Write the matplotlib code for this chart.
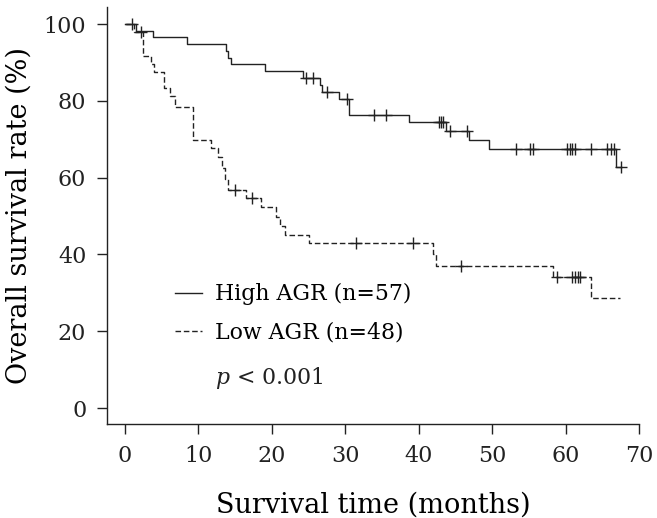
import numpy as np
import matplotlib.pyplot as plt

plt.rcParams['font.family'] = 'DejaVu Serif'
plt.rcParams['mathtext.fontset'] = 'dejavuserif'

# High AGR (n=57): event times (months) and survival (%) after each step
high_t = [0, 1.5, 3.9, 8.5, 13.8, 14.1, 14.5, 19.1, 24.3, 26.5, 26.9, 29.2,
          30.5, 38.7, 43.7, 46.8, 49.6, 66.9]
high_s = [100, 98.2, 96.5, 94.7, 93.0, 91.2, 89.5, 87.7, 85.9, 84.1, 82.2, 80.4,
          76.3, 74.4, 72.1, 69.9, 67.4, 62.9]
high_end = 67.5
high_cens = [1.0, 24.7, 25.6, 27.5, 30.3, 33.9, 35.5, 42.8, 43.0, 43.3, 44.2,
             46.6, 53.2, 55.1, 55.5, 60.2, 60.6, 60.9, 61.2, 63.4, 65.6, 66.1,
             66.6, 67.5]

# Low AGR (n=48)
low_t = [0, 1.3, 2.5, 3.6, 4.0, 5.3, 6.1, 6.8, 9.3, 11.8, 12.7, 13.2, 13.6,
         14.0, 16.5, 18.6, 20.6, 21.1, 21.8, 25.1, 42.0, 42.4, 58.3, 63.5]
low_s = [100, 97.9, 91.7, 89.6, 87.5, 83.3, 81.2, 78.5, 69.8, 67.6, 65.4, 62.5,
         59.6, 56.8, 54.6, 52.4, 49.8, 47.3, 45.2, 43.0, 40.0, 37.1, 34.2, 28.6]
low_end = 67.4
low_cens = [2.2, 15.0, 17.3, 31.5, 39.2, 45.8, 58.8, 60.9, 61.2, 61.6, 61.9]

labels = ['High AGR (n=57)', 'Low AGR (n=48)']


def level_at(times, surv, t):
    idx = np.searchsorted(times, t, side='right') - 1
    return np.array(surv)[idx]


def km_plot(ax, times, surv, end, cens, ls, label):
    xs = list(times) + [end]
    ys = list(surv) + [surv[-1]]
    line, = ax.step(xs, ys, where='post', color='#222222', lw=1.0, ls=ls, label=label)
    ax.plot(cens, level_at(times, surv, cens), ls='none', marker='+',
            color='#222222', ms=9, mew=1.0)
    return line


fig = plt.figure(figsize=(6.57, 5.18), dpi=100)
ax = fig.add_axes([0.163, 0.181, 0.81, 0.806])

km_plot(ax, high_t, high_s, high_end, high_cens, '-', labels[0])
km_plot(ax, low_t, low_s, low_end, low_cens, (0, (4, 2)), labels[1])

ax.set_xlim(-2.4, 70)
ax.set_ylim(-4.2, 104.5)
ax.set_xticks(range(0, 71, 10))
ax.set_yticks(range(0, 101, 20))
for side in ['top', 'right']:
    ax.spines[side].set_visible(False)
for side in ['left', 'bottom']:
    ax.spines[side].set_linewidth(1.0)
    ax.spines[side].set_color('#222222')
ax.tick_params(direction='out', length=7, width=1.0, labelsize=16, pad=8,
               colors='#222222')

ax.set_xlabel('Survival time (months)', fontsize=19.5, labelpad=18)
ax.set_ylabel('Overall survival rate (%)', fontsize=19.5, labelpad=8)

ax.legend(loc='upper left', bbox_to_anchor=(0.09, 0.385), frameon=False,
          fontsize=15.8, handlelength=1.25, handletextpad=0.6, labelspacing=0.75)
ax.text(0.203, 0.096, r'$\mathit{p}$ < 0.001', transform=ax.transAxes,
        fontsize=15.8, color='#222222')

fig.savefig('out.png', dpi=100)
